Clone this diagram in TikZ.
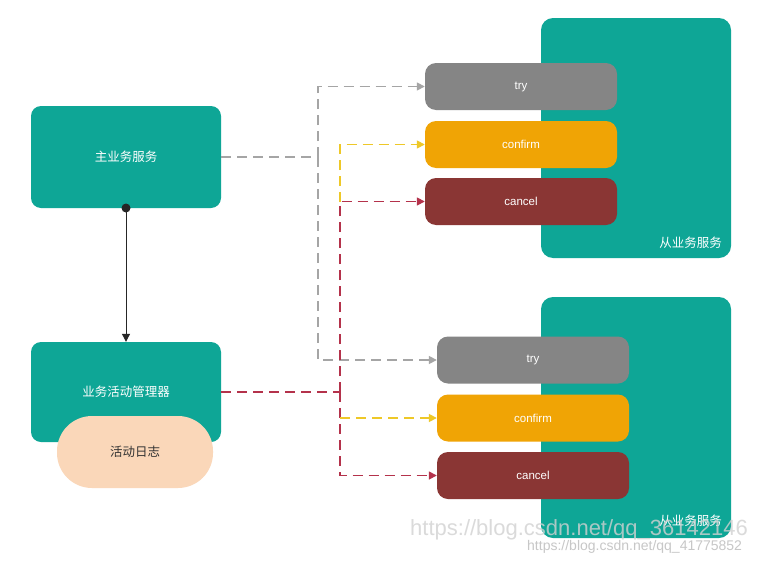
\documentclass[tikz,border=0pt]{standalone}
\usepackage{fontspec}
\setmainfont{Noto Sans CJK SC}
\newfontfamily\wmfont{Liberation Sans}
\usetikzlibrary{arrows.meta}
\definecolor{teal1}{RGB}{14,166,150}
\definecolor{trygray}{RGB}{133,133,133}
\definecolor{confy}{RGB}{240,164,5}
\definecolor{cancr}{RGB}{138,54,52}
\definecolor{logc}{RGB}{250,215,185}
\definecolor{gline}{RGB}{165,165,165}
\definecolor{rline}{RGB}{180,50,75}
\definecolor{yline}{RGB}{238,200,40}
\tikzset{
  svc/.style={fill=teal1, rounded corners=10pt, text=white, minimum width=190pt, inner sep=0pt, font=\fontsize{12.5}{14}\selectfont},
  bigsvc/.style={fill=teal1, rounded corners=12pt, minimum width=190pt, inner sep=0pt},
  op/.style={rounded corners=11pt, minimum width=192pt, minimum height=47pt, inner sep=0pt, text=white, font=\wmfont\fontsize{11.5}{13}\selectfont},
  conn/.style={line width=1.6pt, dash pattern=on 10pt off 6pt},
  tip/.style={-{Triangle[length=8pt,width=8pt]}},
}
\begin{document}
\begin{tikzpicture}[x=1pt,y=-1pt]
\useasboundingbox[fill=white] (0,0) rectangle (779,562);
% slave services
\node[bigsvc, minimum height=240pt] (s1) at (636,138) {};
\node[bigsvc, minimum height=241pt] (s2) at (636,417.5) {};
\node[text=white, anchor=east, inner sep=0pt, font=\fontsize{12.5}{14}\selectfont] (s1l) at (722,243) {从业务服务};
\node[text=white, anchor=east, inner sep=0pt, font=\fontsize{12.5}{14}\selectfont] (s2l) at (722,521) {从业务服务};
% operations
\node[op, fill=trygray] (try1) at (521,86.5) {try};
\node[op, fill=confy] (conf1) at (521,144.5) {confirm};
\node[op, fill=cancr] (canc1) at (521,201.5) {cancel};
\node[op, fill=trygray] (try2) at (533,360) {try};
\node[op, fill=confy] (conf2) at (533,418) {confirm};
\node[op, fill=cancr] (canc2) at (533,475.5) {cancel};
% main and manager
\node[svc, minimum height=102pt] (main) at (126,157) {主业务服务};
\node[svc, minimum height=100pt] (mgr) at (126,392) {业务活动管理器};
\node[fill=logc, rounded corners=35pt, minimum width=156pt, minimum height=72pt, inner sep=0pt, text=black!80, font=\fontsize{12.5}{14}\selectfont] (log) at (135,452) {活动日志};
% black arrow
\coordinate (dot) at (126,208);
\draw[line width=1pt, black!85, -{Triangle[length=8pt,width=8pt]}] (dot) -- (mgr.north);
\fill[black!85] (dot) circle (4.5pt);
% coordinates
\coordinate (g) at (318,157);
\coordinate (r) at (340,392);
\coordinate (y1) at (340,202);
\coordinate (y2) at (340,418);
% gray
\draw[conn, gline] (main.east) -- (g);
\draw[conn, gline, tip] (g) |- (try1.west);
\draw[conn, gline, tip] (g) |- (try2.west);
% red
\draw[conn, rline] (mgr.east) -- (r);
\draw[conn, rline, tip] (r) |- (canc1.west);
\draw[conn, rline, tip] (r) |- (canc2.west);
% yellow
\draw[conn, yline, tip] (y1) |- (conf1.west);
\draw[conn, yline, tip] (y2) -- (conf2.west);
% watermark
\node[anchor=base west, inner sep=0pt, text=black!18, text opacity=0.8, font=\wmfont\fontsize{22}{24}\selectfont] (wm1) at (410,535) {https://blog.csdn.net/qq\_36142146};
\node[anchor=base west, inner sep=0pt, text=black!22, font=\wmfont\fontsize{14}{16}\selectfont] (wm2) at (527,550) {https://blog.csdn.net/qq\_41775852};
\end{tikzpicture}
\end{document}
